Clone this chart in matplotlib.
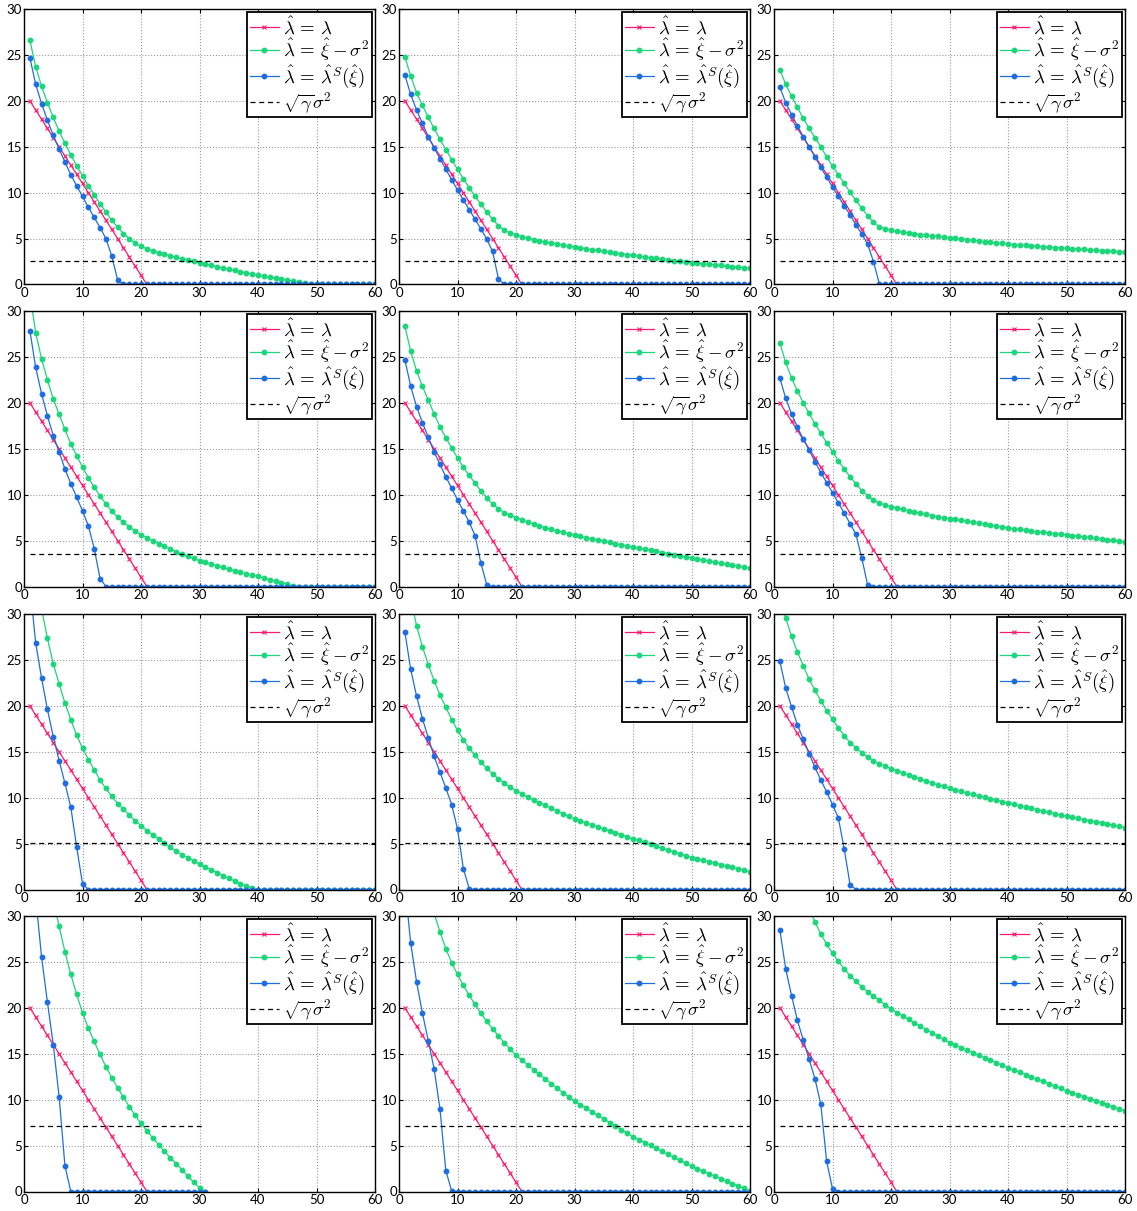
import numpy as np
import matplotlib
matplotlib.use('Agg')
import matplotlib.pyplot as plt

# ---------------------------------------------------------------- data
# index of the eigenvalue (1..60), 1..31 for the last panel of column 1
idx60 = list(range(1, 61))
idx31 = list(range(1, 32))

# true spikes  lambda_hat = lambda
red_true = [20, 19, 18, 17, 16, 15, 14, 13, 12, 11, 10, 9, 8, 7, 6, 5, 4, 3, 2, 1, 0]

# threshold sqrt(gamma)*sigma^2 for each row
thresh_rows = [2.53, 3.58, 5.07, 7.17]

# lambda_hat = xi_hat - sigma^2  (green)
green_11 = [26.6, 23.7, 21.6, 19.8, 18.2, 16.7, 15.4, 14.1, 12.95, 11.85,
            10.75, 9.8, 8.8, 7.9, 7.0, 6.25, 5.55, 5.0, 4.5, 4.15,
            3.9, 3.68, 3.48, 3.3, 3.13, 2.97, 2.82, 2.67, 2.52, 2.38,
            2.23, 2.08, 1.94, 1.8, 1.66, 1.53, 1.4, 1.27, 1.14, 1.02,
            0.9, 0.79, 0.68, 0.57, 0.47, 0.37, 0.27, 0.18, 0.09, 0.02,
            0, 0, 0, 0, 0, 0, 0, 0, 0, 0]
green_12 = [24.8, 22.7, 20.9, 19.5, 18.2, 17.0, 15.8, 14.7, 13.6, 12.55,
            11.5, 10.55, 9.6, 8.75, 7.9, 7.1, 6.4, 5.9, 5.6, 5.4,
            5.2, 5.05, 4.9, 4.78, 4.65, 4.53, 4.42, 4.31, 4.2, 4.1,
            4.0, 3.9, 3.8, 3.71, 3.62, 3.53, 3.44, 3.35, 3.26, 3.17,
            3.09, 3.01, 2.93, 2.85, 2.77, 2.69, 2.61, 2.53, 2.46, 2.38,
            2.32, 2.26, 2.2, 2.14, 2.08, 2.02, 1.96, 1.9, 1.84, 1.78]
green_13 = [23.4, 21.8, 20.5, 19.3, 18.1, 17.0, 16.0, 15.0, 13.9, 12.9,
            11.95, 11.0, 10.05, 9.15, 8.3, 7.5, 6.8, 6.3, 6.05, 5.9,
            5.78, 5.68, 5.6, 5.52, 5.44, 5.37, 5.3, 5.23, 5.16, 5.1,
            5.03, 4.96, 4.89, 4.82, 4.75, 4.68, 4.61, 4.54, 4.47, 4.4,
            4.35, 4.3, 4.25, 4.2, 4.15, 4.1, 4.06, 4.02, 3.98, 3.94,
            3.9, 3.86, 3.82, 3.78, 3.74, 3.7, 3.66, 3.62, 3.58, 3.54]
green_21 = [32.0, 27.6, 24.8, 22.5, 20.45, 18.75, 17.1, 15.55, 14.25, 13.0,
            11.85, 10.8, 9.85, 9.0, 8.2, 7.55, 7.0, 6.5, 6.05, 5.65,
            5.3, 4.98, 4.67, 4.37, 4.08, 3.8, 3.54, 3.3, 3.06, 2.82,
            2.62, 2.43, 2.25, 2.07, 1.9, 1.73, 1.56, 1.4, 1.25, 1.1,
            0.93, 0.76, 0.59, 0.42, 0.24, 0.07, 0, 0, 0, 0,
            0, 0, 0, 0, 0, 0, 0, 0, 0, 0]
green_22 = [28.4, 25.6, 23.5, 21.8, 20.3, 18.8, 17.4, 16.2, 15.1, 14.0,
            13.0, 12.1, 11.25, 10.4, 9.65, 9.0, 8.45, 8.05, 7.75, 7.5,
            7.25, 7.02, 6.8, 6.6, 6.4, 6.22, 6.05, 5.9, 5.75, 5.6,
            5.46, 5.33, 5.2, 5.07, 4.94, 4.81, 4.68, 4.55, 4.42, 4.3,
            4.18, 4.06, 3.94, 3.82, 3.7, 3.58, 3.46, 3.34, 3.22, 3.1,
            2.99, 2.88, 2.77, 2.66, 2.55, 2.44, 2.33, 2.22, 2.11, 2.0]
green_23 = [26.5, 24.4, 22.7, 21.3, 20.0, 18.85, 17.7, 16.7, 15.65, 14.7,
            13.7, 12.8, 11.95, 11.2, 10.45, 9.9, 9.45, 9.1, 8.88, 8.7,
            8.55, 8.41, 8.27, 8.13, 7.99, 7.86, 7.73, 7.6, 7.5, 7.4,
            7.3, 7.2, 7.1, 7.0, 6.9, 6.8, 6.7, 6.6, 6.49, 6.38,
            6.3, 6.22, 6.14, 6.06, 5.98, 5.91, 5.84, 5.77, 5.7, 5.62,
            5.55, 5.48, 5.41, 5.34, 5.26, 5.18, 5.1, 5.02, 4.94, 4.86]
green_31 = [39.5, 34.5, 30.6, 27.35, 24.6, 22.4, 20.3, 18.5, 16.8, 15.4,
            14.15, 13.05, 11.9, 11.0, 10.15, 9.36, 8.74, 8.09, 7.5, 6.96,
            6.42, 5.95, 5.5, 5.08, 4.6, 4.2, 3.8, 3.45, 3.12, 2.76,
            2.43, 2.14, 1.85, 1.52, 1.23, 0.94, 0.65, 0.4, 0.18, 0.0,
            0, 0, 0, 0, 0, 0, 0, 0, 0, 0,
            0, 0, 0, 0, 0, 0, 0, 0, 0, 0]
green_32 = [36.0, 31.8, 28.7, 26.45, 24.5, 22.75, 21.2, 19.85, 18.5, 17.35,
            16.3, 15.4, 14.6, 13.85, 13.2, 12.6, 12.08, 11.57, 11.13, 10.77,
            10.4, 10.05, 9.75, 9.45, 9.15, 8.85, 8.55, 8.25, 7.97, 7.7,
            7.48, 7.26, 7.04, 6.82, 6.6, 6.39, 6.18, 5.97, 5.76, 5.55,
            5.34, 5.13, 4.92, 4.71, 4.5, 4.3, 4.1, 3.9, 3.69, 3.48,
            3.32, 3.17, 3.02, 2.87, 2.72, 2.57, 2.42, 2.27, 2.12, 1.96]
green_33 = [31.8, 29.56, 27.6, 25.86, 24.37, 22.9, 21.7, 20.57, 19.48, 18.53,
            17.6, 16.76, 16.0, 15.45, 14.9, 14.44, 14.0, 13.7, 13.43, 13.17,
            12.94, 12.71, 12.48, 12.26, 12.04, 11.82, 11.61, 11.41, 11.22, 11.03,
            10.86, 10.69, 10.52, 10.36, 10.2, 10.04, 9.88, 9.73, 9.58, 9.43,
            9.28, 9.13, 8.99, 8.85, 8.71, 8.56, 8.42, 8.27, 8.12, 7.98,
            7.86, 7.74, 7.62, 7.5, 7.38, 7.25, 7.12, 7.0, 6.88, 6.75]
green_41 = [50.0, 43.0, 38.5, 35.0, 31.8, 28.88, 26.1, 23.64, 21.47, 19.48,
            17.78, 16.34, 14.93, 13.59, 12.4, 11.31, 10.26, 9.25, 8.28, 7.41,
            6.61, 5.82, 5.1, 4.37, 3.69, 3.04, 2.39, 1.66, 1.01, 0.4,
            0.0]
green_42 = [51.0, 44.0, 39.5, 35.8, 32.8, 30.3, 28.3, 26.45, 24.93, 23.63,
            22.44, 21.35, 20.38, 19.4, 18.53, 17.73, 16.94, 16.21, 15.49, 14.84,
            14.3, 13.78, 13.27, 12.76, 12.26, 11.76, 11.27, 10.78, 10.3, 9.84,
            9.45, 9.06, 8.67, 8.28, 7.9, 7.51, 7.12, 6.74, 6.35, 5.97,
            5.65, 5.33, 5.01, 4.69, 4.36, 4.04, 3.72, 3.39, 3.07, 2.75,
            2.48, 2.21, 1.94, 1.67, 1.4, 1.13, 0.87, 0.6, 0.33, 0.07]
green_43 = [46.0, 41.0, 37.8, 35.0, 32.8, 30.9, 29.35, 28.05, 26.93, 25.95,
            25.05, 24.25, 23.52, 22.87, 22.3, 21.75, 21.28, 20.81, 20.34, 19.87,
            19.49, 19.11, 18.74, 18.37, 18.0, 17.64, 17.28, 16.92, 16.56, 16.21,
            15.93, 15.65, 15.38, 15.11, 14.84, 14.57, 14.3, 14.03, 13.77, 13.5,
            13.25, 12.99, 12.74, 12.48, 12.23, 11.98, 11.73, 11.47, 11.22, 10.97,
            10.75, 10.53, 10.31, 10.09, 9.88, 9.66, 9.45, 9.23, 9.01, 8.8]

# lambda_hat = lambda^S(xi_hat)  (blue), zero after the cut-off
blue_11 = [24.7, 21.8, 19.7, 17.9, 16.25, 14.75, 13.35, 11.95, 10.75, 9.6,
           8.4, 7.3, 6.2, 5.0, 3.1, 0.5] + [0.0] * 44
blue_12 = [22.8, 20.7, 19.0, 17.55, 16.1, 14.9, 13.7, 12.55, 11.4, 10.3,
           9.2, 8.15, 7.1, 6.05, 4.95, 3.6, 0.6] + [0.0] * 43
blue_13 = [21.5, 19.8, 18.5, 17.3, 16.1, 15.0, 13.9, 12.75, 11.7, 10.6,
           9.6, 8.55, 7.6, 6.5, 5.5, 4.4, 2.5, 0.1] + [0.0] * 42
blue_21 = [27.87, 23.85, 21.0, 18.6, 16.43, 14.66, 12.8, 11.2, 9.73, 8.25,
           6.62, 4.13, 0.87] + [0.0] * 47
blue_22 = [24.7, 21.8, 19.6, 17.85, 16.25, 14.65, 13.3, 11.95, 10.7, 9.43,
           8.23, 7.0, 5.55, 2.54, 0.18] + [0.0] * 45
blue_23 = [22.7, 20.5, 18.8, 17.35, 16.05, 14.85, 13.6, 12.4, 11.3, 10.23,
           9.1, 8.0, 6.85, 5.7, 3.1, 0.18] + [0.0] * 44
blue_31 = [33.2, 26.84, 23.03, 19.62, 16.65, 14.04, 11.57, 8.96, 4.64, 0.62] + [0.0] * 50
blue_32 = [28.07, 23.97, 21.07, 18.6, 16.54, 14.5, 12.77, 11.06, 9.25, 6.6,
           2.28, 0.1] + [0.0] * 48
blue_33 = [24.85, 21.95, 19.88, 17.96, 16.36, 14.8, 13.31, 11.93, 10.63, 9.25,
           7.8, 4.43, 0.54] + [0.0] * 47
blue_41 = [40.0, 32.0, 25.55, 20.64, 16.0, 10.34, 2.78] + [0.0] * 24
blue_42 = [33.5, 27.04, 22.84, 19.43, 16.43, 13.36, 9.01, 2.28, 0.07] + [0.0] * 51
blue_43 = [28.48, 24.25, 21.32, 18.64, 16.5, 14.4, 12.27, 9.52, 3.29, 0.29] + [0.0] * 50

greens = [[green_11, green_12, green_13],
          [green_21, green_22, green_23],
          [green_31, green_32, green_33],
          [green_41, green_42, green_43]]
blues = [[blue_11, blue_12, blue_13],
         [blue_21, blue_22, blue_23],
         [blue_31, blue_32, blue_33],
         [blue_41, blue_42, blue_43]]

# ---------------------------------------------------------------- style
c_red = '#ff1a6e'
c_green = '#1cd67a'
c_blue = '#1f6ee0'

plt.rcParams.update({'font.family': ['Lato', 'DejaVu Sans'],
                     'mathtext.fontset': 'cm',
                     'xtick.labelsize': 9.5,
                     'ytick.labelsize': 9.5})

W, H = 1137, 1211
fig = plt.figure(figsize=(W / 100.0, H / 100.0), dpi=100)

lefts = [24, 399, 774]
tops = [9, 311, 614, 916]
ax_w, ax_h = 351, 275.5

labels = [r'$\hat{\lambda}\,=\,\lambda$',
          r'$\hat{\lambda}\,=\,\hat{\xi}-\sigma^2$',
          r'$\hat{\lambda}\,=\,\hat{\lambda}^S(\hat{\xi})$',
          r'$\sqrt{\gamma}\sigma^2$']

for r in range(4):
    for c in range(3):
        ax = fig.add_axes([lefts[c] / W, 1 - (tops[r] + ax_h) / H, ax_w / W, ax_h / H])
        g = greens[r][c]
        b = blues[r][c]
        xs = idx31 if len(g) == 31 else idx60
        ax.plot(idx60[:len(red_true)], red_true, color=c_red, marker='x', ms=2.3,
                mew=0.8, lw=0.9, label=labels[0])
        ax.plot(xs, g, color=c_green, marker='o', ms=3.2, lw=0.9, label=labels[1])
        ax.plot(xs, b, color=c_blue, marker='o', ms=3.2, lw=0.9, label=labels[2])
        ax.plot([xs[0], xs[-1]], [thresh_rows[r], thresh_rows[r]], color='k',
                ls='--', dashes=(4, 3), lw=0.9, label=labels[3])
        ax.set_xlim(0, 60)
        ax.set_ylim(0, 30)
        ax.set_xticks(range(0, 61, 10))
        ax.set_yticks(range(0, 31, 5))
        ax.grid(True, linestyle=':', color='0.6', lw=0.8)
        ax.tick_params(direction='in', top=True, right=True, length=3, pad=1.5)
        for s in ax.spines.values():
            s.set_linewidth(1.0)
        leg = ax.legend(loc='upper right', fontsize=13.5, borderaxespad=0.15,
                        handlelength=1.55, handletextpad=0.2, labelspacing=0.0,
                        borderpad=0.15, fancybox=False, framealpha=1.0)
        leg.get_frame().set_edgecolor('k')
        leg.get_frame().set_linewidth(1.3)

fig.savefig('out.png', dpi=100)
